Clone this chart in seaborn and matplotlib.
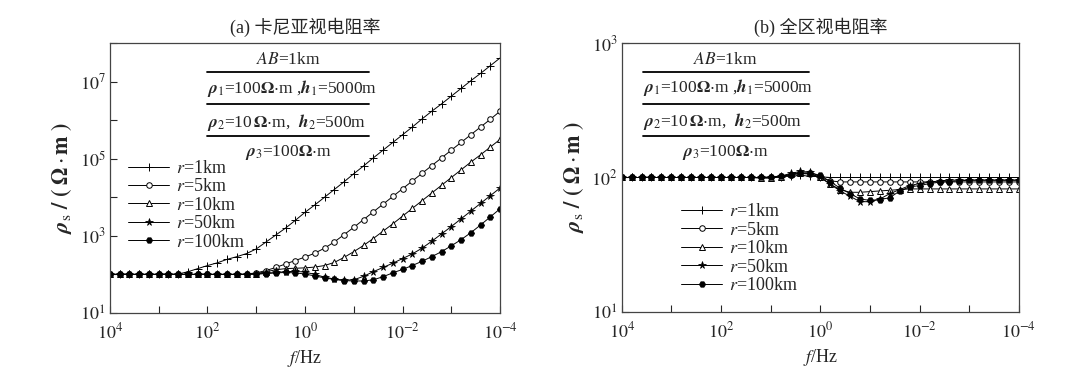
import numpy as np
import pandas as pd
import seaborn as sns
import matplotlib.pyplot as plt
from matplotlib.lines import Line2D

# sample frequencies: log10(f) from 10^4 Hz down to 10^-4 Hz, 0.2-decade steps
log_f = np.round(np.arange(4.0, -4.01, -0.2), 1)

labels = ["1km", "5km", "10km", "50km", "100km"]

# (a) Cagniard apparent resistivity, log10(rho)
cag_1km = [2.00, 2.00, 2.00, 2.00, 2.00, 2.00, 2.00, 2.01, 2.07, 2.15,
           2.23, 2.30, 2.39, 2.46, 2.54, 2.66, 2.84, 3.02, 3.20, 3.40,
           3.61, 3.80, 4.00, 4.20, 4.40, 4.61, 4.81, 5.02, 5.22, 5.42,
           5.62, 5.82, 6.03, 6.23, 6.42, 6.62, 6.82, 7.02, 7.21, 7.41, 7.61]
cag_5km = [2.0] * 14 + [2.01, 2.04, 2.10, 2.18, 2.27, 2.36, 2.45, 2.55, 2.68,
                        2.84, 3.03, 3.22, 3.42, 3.62, 3.82, 4.02, 4.22, 4.42,
                        4.62, 4.82, 5.02, 5.22, 5.42, 5.62, 5.82, 6.02, 6.23]
cag_10km = [2.0] * 15 + [2.02, 2.07, 2.12, 2.15, 2.16, 2.17, 2.19, 2.23, 2.31,
                         2.44, 2.59, 2.75, 2.93, 3.12, 3.31, 3.51, 3.71, 3.91,
                         4.11, 4.31, 4.51, 4.71, 4.91, 5.10, 5.30, 5.50]
cag_50km = [2.0] * 15 + [2.01, 2.03, 2.05, 2.07, 2.08, 2.06, 2.00, 1.93, 1.88,
                         1.85, 1.86, 1.95, 2.07, 2.18, 2.29, 2.41, 2.53, 2.68,
                         2.86, 3.05, 3.24, 3.44, 3.64, 3.84, 4.04, 4.24]
cag_100km = [2.0] * 15 + [2.01, 2.02, 2.04, 2.05, 2.04, 2.01, 1.96, 1.91, 1.87,
                          1.84, 1.83, 1.83, 1.86, 1.94, 2.04, 2.13, 2.23, 2.34,
                          2.46, 2.59, 2.74, 2.90, 3.08, 3.28, 3.49, 3.70]

# (b) whole-zone apparent resistivity, log10(rho)
wz_1km = [2.0] * 15 + [2.0, 2.005, 2.01, 2.015, 2.01, 2.005] + [2.0] * 20
wz_5km = [2.0] * 15 + [2.0, 2.01, 2.02, 2.03, 2.025, 2.0, 1.975] + [1.967] * 19
wz_10km = [2.0] * 14 + [1.995, 1.995, 2.005, 2.025, 2.035, 2.03, 2.0, 1.95,
                        1.91, 1.89, 1.89, 1.895, 1.90, 1.905, 1.91] + [1.915] * 12
wz_50km = [2.0] * 15 + [2.0, 2.01, 2.03, 2.045, 2.04, 2.005, 1.95, 1.90, 1.86,
                        1.82, 1.82, 1.84, 1.88, 1.91, 1.94, 1.955, 1.965,
                        1.975] + [1.98] * 8
wz_100km = [2.0] * 15 + [2.005, 2.01, 2.02, 2.03, 2.035, 2.015, 1.97, 1.92,
                         1.88, 1.84, 1.83, 1.835, 1.85, 1.90, 1.93, 1.94, 1.955,
                         1.965, 1.97, 1.975] + [1.98] * 6

sns.set_style("ticks")
plt.rcParams["font.family"] = ["Liberation Serif", "Noto Sans CJK SC"]
plt.rcParams["mathtext.fontset"] = "stix"

marker_styles = [
    dict(marker="+", markersize=5.5, markerfacecolor="k", markeredgewidth=0.7),
    dict(marker="o", markersize=4, markerfacecolor="white", markeredgewidth=0.7),
    dict(marker="^", markersize=4, markerfacecolor="white", markeredgewidth=0.7),
    dict(marker="*", markersize=5.5, markerfacecolor="k", markeredgewidth=0.5),
    dict(marker="H", markersize=4.5, markerfacecolor="k", markeredgewidth=0.5),
]


def make_frame(series):
    rows = []
    for lab, vals in zip(labels, series):
        for lf, v in zip(log_f, vals):
            rows.append({"f": 10.0 ** lf, "rho": 10.0 ** v, "r": lab})
    return pd.DataFrame(rows)


def draw_panel(ax, df, title, ylim, yexps, ylab_exps, box_x, box_center, leg_anchor):
    ax.set_xscale("log")
    ax.set_yscale("log")
    for lab, st in zip(labels, marker_styles):
        sub = df[df["r"] == lab]
        sns.lineplot(data=sub, x="f", y="rho", ax=ax, color="k", lw=0.7,
                     markeredgecolor="k", legend=False, **st)
    ax.set_xlim(1e4, 1e-4)
    ax.set_ylim(*ylim)
    ax.set_xticks([10.0 ** e for e in range(4, -5, -1)])
    ax.set_xticklabels([f"$10^{{{e}}}$" if e % 2 == 0 else "" for e in range(4, -5, -1)])
    ax.set_yticks([10.0 ** e for e in yexps])
    ax.set_yticklabels([f"$10^{{{e}}}$" if e in ylab_exps else "" for e in yexps])
    ax.minorticks_off()
    ax.tick_params(direction="in", length=5, width=0.8, labelsize=13, top=False, right=False)
    ax.tick_params(axis="x", pad=7)
    ax.tick_params(axis="y", pad=3)
    for sp in ax.spines.values():
        sp.set_linewidth(0.9)
        sp.set_color("#444444")
    ax.set_xlabel(r"$f$/Hz", fontsize=13, labelpad=4)
    ax.set_ylabel(r"$\boldsymbol{\rho}_{\mathrm{s}}\ \mathbf{/\ (\ \Omega}\cdot\mathbf{m\ )}$",
                  fontsize=16, labelpad=4)
    ax.set_title(title, fontsize=13, pad=7)

    # parameter box
    tr = ax.transAxes
    ax.text(box_center, 0.937, r"$AB$=1km", transform=tr, ha="center", va="center", fontsize=12.5)
    ax.text(box_x[0], 0.833, r"$\boldsymbol{\rho}_1$=100$\mathbf{\Omega}$$\cdot$m ,$\boldsymbol{h}_1$=5000m",
            transform=tr, ha="left", va="center", fontsize=12.5)
    ax.text(box_x[0], 0.707, r"$\boldsymbol{\rho}_2$=10$\,\mathbf{\Omega}$$\cdot$m,  $\boldsymbol{h}_2$=500m",
            transform=tr, ha="left", va="center", fontsize=12.5)
    ax.text(box_center, 0.593, r"$\boldsymbol{\rho}_3$=100$\mathbf{\Omega}$$\cdot$m",
            transform=tr, ha="center", va="center", fontsize=12.5)
    for yy in (0.893, 0.774, 0.656):
        ax.plot(box_x, [yy, yy], transform=tr, color="k", lw=1.3, clip_on=False)

    handles = [Line2D([0], [0], color="k", lw=0.7, markeredgecolor="k", **st)
               for st in marker_styles]
    ax.legend(handles, [f"$r$={lab}" for lab in labels], loc="upper left",
              bbox_to_anchor=leg_anchor, frameon=False, fontsize=13,
              handlelength=2.3, handletextpad=0.35, labelspacing=0.08, borderpad=0,
              borderaxespad=0)


fig = plt.figure(figsize=(10.7, 3.68), dpi=100)
ax1 = fig.add_axes([0.1028, 0.1495, 0.3645, 0.7337])
ax2 = fig.add_axes([0.5810, 0.1522, 0.3713, 0.7310])

draw_panel(ax1, make_frame([cag_1km, cag_5km, cag_10km, cag_50km, cag_100km]),
           "(a) 卡尼亚视电阻率", (1e1, 1e8), range(1, 9), (1, 3, 5, 7),
           (0.249, 0.664), 0.456, (0.046, 0.567))
draw_panel(ax2, make_frame([wz_1km, wz_5km, wz_10km, wz_50km, wz_100km]),
           "(b) 全区视电阻率", (1e1, 1e3), range(1, 4), (1, 2, 3),
           (0.054, 0.472), 0.262, (0.149, 0.404))

fig.savefig("out.png", dpi=100)
